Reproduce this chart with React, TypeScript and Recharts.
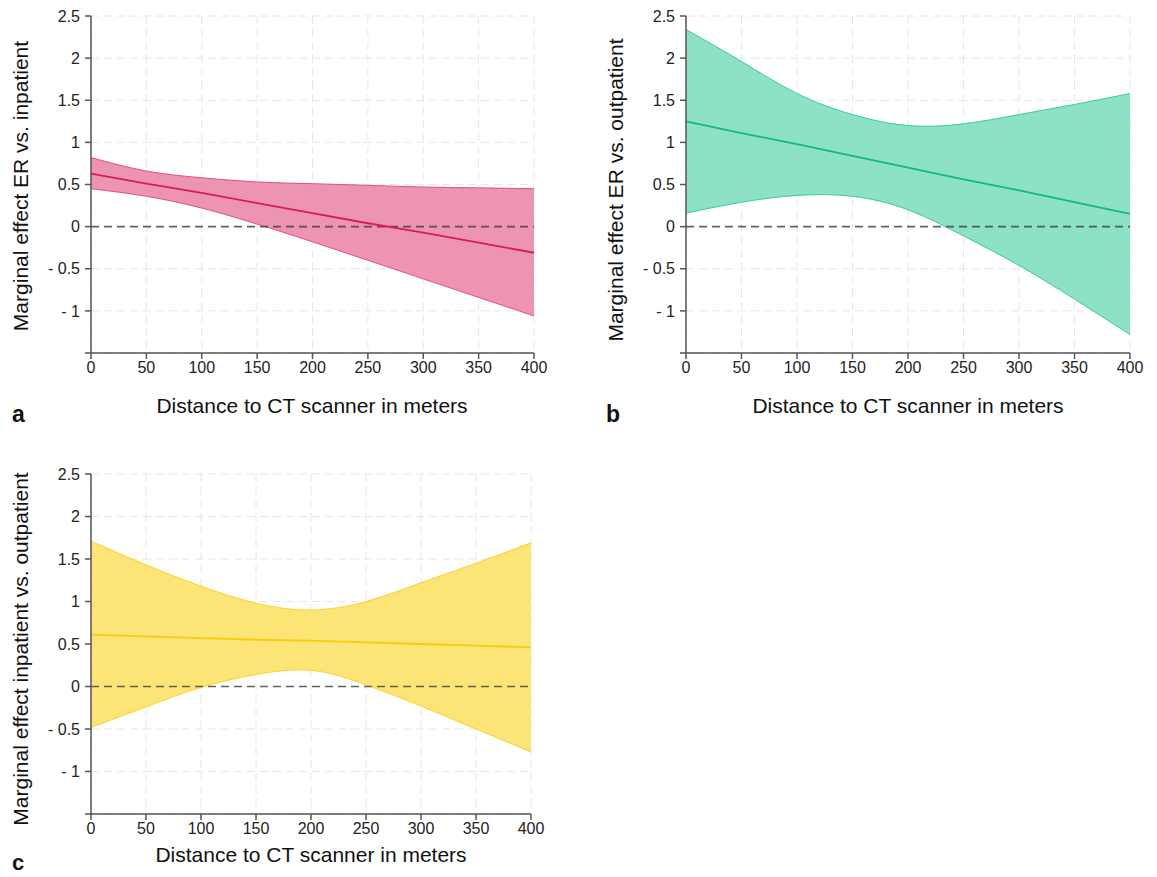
import { ComposedChart, Area, Line, XAxis, YAxis, CartesianGrid, ReferenceLine } from 'recharts'

const distances = [0, 50, 100, 150, 200, 250, 300, 350, 400]
const xTicks = [0, 50, 100, 150, 200, 250, 300, 350, 400]
const yTicks = [-1.5, -1, -0.5, 0, 0.5, 1, 1.5, 2, 2.5]

// a: ER vs. inpatient
const erInpMean = [0.63, 0.51, 0.4, 0.28, 0.16, 0.04, -0.07, -0.19, -0.31]
const erInpUpper = [0.82, 0.66, 0.58, 0.53, 0.51, 0.49, 0.47, 0.46, 0.45]
const erInpLower = [0.45, 0.36, 0.22, 0.03, -0.18, -0.4, -0.62, -0.84, -1.06]

// b: ER vs. outpatient
const erOutMean = [1.25, 1.11, 0.98, 0.84, 0.7, 0.56, 0.43, 0.29, 0.15]
const erOutUpper = [2.34, 1.96, 1.58, 1.33, 1.2, 1.22, 1.33, 1.45, 1.58]
const erOutLower = [0.16, 0.29, 0.37, 0.36, 0.2, -0.11, -0.46, -0.86, -1.28]

// c: inpatient vs. outpatient
const inpOutMean = [0.61, 0.59, 0.57, 0.55, 0.54, 0.52, 0.5, 0.48, 0.46]
const inpOutUpper = [1.71, 1.43, 1.18, 0.98, 0.9, 1.0, 1.22, 1.45, 1.69]
const inpOutLower = [-0.48, -0.24, -0.01, 0.14, 0.19, 0.02, -0.23, -0.5, -0.77]

const FONT = '"Liberation Sans", Arial, Helvetica, sans-serif'
const AXIS = '#555'

const build = (mean: number[], lo: number[], hi: number[]) =>
  distances.map((d, i) => ({ d, mean: mean[i], band: [lo[i], hi[i]] }))

const fmtY = (v: number) => (v === -1.5 ? '' : v < 0 ? `- ${Math.abs(v)}` : `${v}`)

interface PanelProps {
  left: number
  top: number
  width: number
  height: number
  data: { d: number; mean: number; band: number[] }[]
  fill: string
  edge: string
  line: string
}

function Panel({ left, top, width, height, data, fill, edge, line }: PanelProps) {
  return (
    <div style={{ position: 'absolute', left, top }}>
      <ComposedChart width={width} height={height} data={data} margin={{ top: 16, right: 26, left: 31, bottom: 17 }}>
        <CartesianGrid stroke="#e6e6e6" strokeDasharray="8 5" />
        <XAxis
          dataKey="d"
          type="number"
          domain={[0, 400]}
          ticks={xTicks}
          height={30}
          stroke={AXIS}
          strokeWidth={1.5}
          tickSize={6}
          tickMargin={3}
          tick={{ fontSize: 16, fill: '#222', fontFamily: FONT }}
        />
        <YAxis
          type="number"
          domain={[-1.5, 2.5]}
          ticks={yTicks}
          width={60}
          stroke={AXIS}
          strokeWidth={1.5}
          tickSize={6}
          tickMargin={5}
          tickFormatter={fmtY}
          tick={{ fontSize: 16, fill: '#222', fontFamily: FONT }}
        />
        <Area
          dataKey="band"
          type="natural"
          fill={fill}
          fillOpacity={1}
          stroke={edge}
          strokeWidth={1}
          isAnimationActive={false}
        />
        <ReferenceLine y={0} stroke="#333" strokeOpacity={0.75} strokeWidth={1.6} strokeDasharray="8 5" />
        <Line dataKey="mean" type="linear" stroke={line} strokeWidth={1.8} dot={false} isAnimationActive={false} />
      </ComposedChart>
    </div>
  )
}

export default function App() {
  return (
    <div style={{ position: 'absolute', left: 0, top: 0, width: 1157, height: 877, background: '#fff', fontFamily: FONT }}>
      <Panel
        left={0}
        top={0}
        width={560}
        height={400}
        data={build(erInpMean, erInpLower, erInpUpper)}
        fill="#ec94b2"
        edge="#e0508a"
        line="#d81b5e"
      />
      <Panel
        left={595}
        top={0}
        width={561}
        height={400}
        data={build(erOutMean, erOutLower, erOutUpper)}
        fill="#8de1c4"
        edge="#3ccb9a"
        line="#17b783"
      />
      <Panel
        left={0}
        top={458}
        width={557}
        height={403}
        data={build(inpOutMean, inpOutLower, inpOutUpper)}
        fill="#fde477"
        edge="#fcd12a"
        line="#f7cb0c"
      />
      <svg width={1157} height={877} style={{ position: 'absolute', left: 0, top: 0, pointerEvents: 'none' }}>
        <g fontFamily={FONT} fill="#111">
          <text x={312} y={413} fontSize={21} textAnchor="middle">Distance to CT scanner in meters</text>
          <text x={908} y={413} fontSize={21} textAnchor="middle">Distance to CT scanner in meters</text>
          <text x={311} y={862} fontSize={21} textAnchor="middle">Distance to CT scanner in meters</text>
          <text x={28} y={186} fontSize={21} textAnchor="middle" transform="rotate(-90 28 186)">Marginal effect ER vs. inpatient</text>
          <text x={623} y={190} fontSize={21} textAnchor="middle" transform="rotate(-90 623 190)">Marginal effect ER vs. outpatient</text>
          <text x={28} y={649} fontSize={21} textAnchor="middle" transform="rotate(-90 28 649)">Marginal effect inpatient vs. outpatient</text>
          <text x={12} y={422} fontSize={23} fontWeight="bold">a</text>
          <text x={606} y={422} fontSize={23} fontWeight="bold">b</text>
          <text x={12} y={870} fontSize={22} fontWeight="bold">c</text>
        </g>
      </svg>
    </div>
  )
}
